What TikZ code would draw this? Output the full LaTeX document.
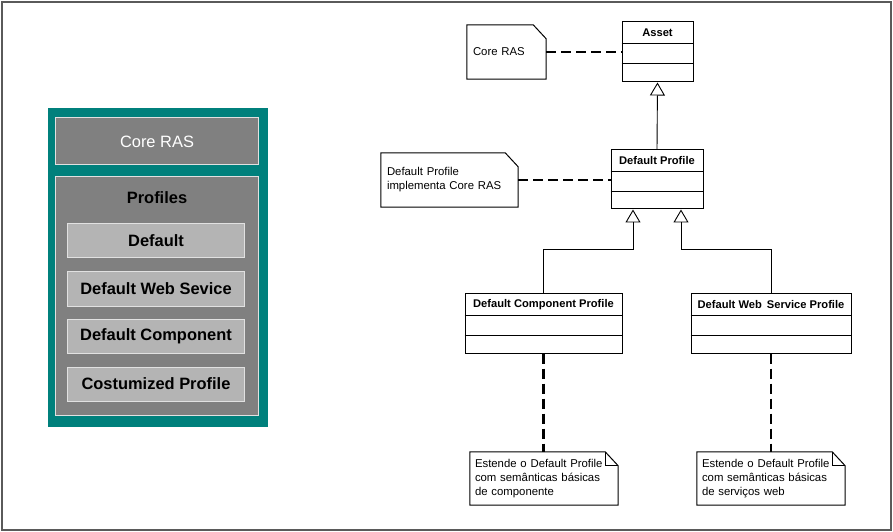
\documentclass[tikz,border=0pt]{standalone}
\usepackage{fontspec}
\setmainfont{Liberation Sans}
\usetikzlibrary{positioning,arrows.meta}
\definecolor{tealframe}{RGB}{0,128,124}
\definecolor{boxgray}{RGB}{128,128,128}
\definecolor{itemgray}{RGB}{180,180,180}
\definecolor{boxedge}{RGB}{225,225,225}
\definecolor{framegray}{RGB}{90,90,90}
\begin{document}
\begin{tikzpicture}[x=1bp,y=-1bp,line join=miter,
  big/.style={font=\fontsize{16.5}{19}\selectfont},
  graybox/.style={draw=boxedge,line width=1bp,fill=boxgray,inner sep=0pt,minimum width=202bp},
  itembox/.style={draw=boxedge,line width=1bp,fill=itemgray,inner sep=0pt,minimum width=176bp,minimum height=34bp,big,font=\fontsize{16.5}{19}\selectfont\bfseries},
  classbox/.style={draw,line width=1bp,inner sep=0pt,minimum height=59bp},
  classtitle/.style={inner sep=0pt,minimum height=22bp,font=\fontsize{11.2}{13}\selectfont\bfseries},
  classpart/.style={inner sep=0pt,minimum height=19bp},
  notebox/.style={inner xsep=6bp,inner ysep=0pt,minimum height=54bp,align=left,font=\fontsize{11.4}{14}\selectfont},
  noteline/.style={line width=1bp},
  anchorline/.style={line width=2.6bp,dash pattern=on 10bp off 5bp},
  generalize/.style={line width=0.9bp,-{Triangle[open,length=13bp,width=15bp,line width=0.9bp]}},
]
\useasboundingbox (0,0) rectangle (893,532);
\draw[framegray,line width=1.2bp] (2,2) rectangle (891,530);
%%
% Node: RAS block
\node[fill=tealframe,inner sep=0pt,minimum width=220bp,minimum height=319bp] (ras) at (158,267.5) {};
\node[graybox,minimum height=47bp,text=white,big] (core ras) at (157,141.5) {Core RAS};
\node[graybox,minimum height=238bp] (profiles) at (157,296) {};
\node[big,font=\fontsize{16.5}{19}\selectfont\bfseries,below=12bp of profiles.north] (profiles title) {Profiles};
\node[itembox] (default) at (156,241) {Default};
\node[itembox,below=13bp of default] (default web) {Default Web Sevice};
\node[itembox,below=12bp of default web] (default comp) {Default Component};
\node[itembox,below=13bp of default comp] (custom) {Costumized Profile};
%
% Node: Asset
\node[classbox,minimum width=71bp,minimum height=60bp] (asset) at (657.5,52) {};
\node[classtitle,below=0pt of asset.north] (asset title) {Asset};
\node[classpart,below=0pt of asset title] (asset attr) {};
% Node: Default Profile
\node[classbox,minimum width=92bp] (def profile) at (657,179.5) {};
\node[classtitle,below=0pt of def profile.north] (def profile title) {Default Profile};
\node[classpart,below=0pt of def profile title] (def profile attr) {};
% Node: Default Component Profile
\node[classbox,minimum width=157bp] (comp profile) at (543.5,323.5) {};
\node[classtitle,below=0pt of comp profile.north] (comp profile title) {Default Component Profile};
\node[classpart,below=0pt of comp profile title] (comp profile attr) {};
% Node: Default Web Service Profile
\node[classbox,minimum width=160bp] (web profile) at (771,323.5) {};
\node[classtitle,below=0pt of web profile.north] (web profile title) {Default Web\ \,Service Profile};
\node[classpart,below=0pt of web profile title] (web profile attr) {};
% compartments
\foreach \c in {asset,def profile,comp profile,web profile}{
  \draw[line width=1bp] (\c\space title.south -| \c.west) -- (\c\space title.south -| \c.east);
  \draw[line width=1bp] (\c\space attr.south -| \c.west) -- (\c\space attr.south -| \c.east);
}
%
% Node: notes
\node[notebox,text width=67bp] (core note) at (506.5,52) {\raisebox{-2bp}{Core RAS}};
\node[notebox,text width=125bp] (def note) at (449.5,180) {Default Profile\\implementa Core RAS};
\node[notebox,text width=138bp,minimum height=53bp,inner xsep=5bp] (comp note) at (544,478.5) {Estende o Default Profile\\com semânticas básicas\\de componente};
\node[notebox,text width=138bp,minimum height=53bp,inner xsep=5bp] (web note) at (771,478.5) {Estende o Default Profile\\com semânticas básicas\\de serviços web};
\foreach \n in {core note,def note,comp note,web note}{
  \draw[noteline] (\n.north west) -- ([xshift=-13bp]\n.north east) -- ([yshift=-14bp]\n.north east)
    -- (\n.south east) -- (\n.south west) -- cycle;
}
\foreach \n in {comp note,web note}{
  \draw[noteline] ([xshift=-13bp]\n.north east) -- ([xshift=-13bp,yshift=-14bp]\n.north east)
    -- ([yshift=-14bp]\n.north east);
}
%
% Edge: Core RAS note -> Asset
\draw[anchorline] (core note.east) -- (asset.west);
% Edge: Default Profile note -> Default Profile
\draw[anchorline] (def note.east) -- (def profile.west |- def note.east);
% Edge: Default Profile -> Asset
\draw[generalize] (def profile.north) -- (asset.south);
% Edge: Default Component Profile -> Default Profile
\draw[generalize] (comp profile.north) -- ++(0,-44) -| ([xshift=-24bp]def profile.south);
% Edge: Default Web Service Profile -> Default Profile
\draw[generalize] (web profile.north) -- ++(0,-44) -| ([xshift=24bp]def profile.south);
% Edge: classes -> notes
\draw[anchorline] (comp profile.south) -- (comp note.north -| comp profile.south);
\draw[anchorline] (web profile.south) -- (web note.north);
%
\end{tikzpicture}
\end{document}
